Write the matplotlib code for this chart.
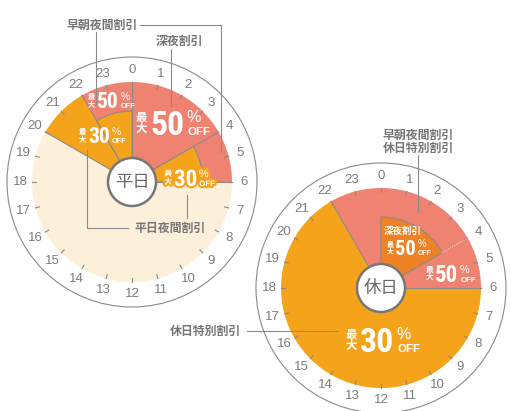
import numpy as np
import matplotlib
matplotlib.use('Agg')
import matplotlib.pyplot as plt
from matplotlib.patches import Wedge, Circle
import matplotlib.patheffects as pe

plt.rcParams['font.family'] = ['Noto Sans CJK JP', 'DejaVu Sans']

# colours for each fare type
COLORS = {'late': '#F08272', 'eve': '#F5A31B', 'deep': '#EF8224', 'base': '#FDF0DB'}
LINE = '#8a8a8a'
TXT = '#767676'
NUM_FONT = ['Liberation Sans Narrow', 'Roboto Condensed', 'Open Sans Condensed',
            'Noto Sans Condensed', 'Liberation Sans']

hours = list(range(24))

# weekday (平日) sectors, hours from midnight
weekday_start = [0, 4, 6, 20, 22]
weekday_end = [4, 6, 20, 22, 24]
weekday_kind = ['late', 'late', 'base', 'eve', 'late']
weekday_inner_start = [4, 22]
weekday_inner_end = [6, 24]
weekday_inner_kind = ['eve', 'eve']

# holiday (休日) sectors
holiday_start = [22, 6]
holiday_end = [30, 22]
holiday_kind = ['late', 'eve']
holiday_inner_start = [0]
holiday_inner_end = [4]
holiday_inner_kind = ['deep']

# discount labels: (percent, dx, dy, digit height) relative to chart centre
weekday_offers = [('50', 18, -72, 25), ('50', -35, -90, 16), ('30', -44, -55, 16), ('30', 42, -13, 17)]
holiday_offers = [('50', 14, -48, 15), ('50', 54, -23, 17), ('30', -21, 39, 25)]

R_PIE = 100
R_INNER = 71
R_OUTER = 125
R_LABEL = 112


def hour_xy(cx, cy, h, r):
    a = np.deg2rad(h * 15)
    return cx + r * np.sin(a), cy - r * np.cos(a)


def draw_offer(ax, x, y, pct, h, stroke=None):
    effects = [pe.withStroke(linewidth=3, foreground=stroke)] if stroke else None
    base = y + h
    t = ax.text(x, base, pct, fontsize=h * 0.97, family=NUM_FONT, weight='bold',
                color='white', ha='left', va='baseline', path_effects=effects, zorder=10)
    r = ax.figure.canvas.get_renderer()
    right = t.get_window_extent(r).x1
    small = h * 0.33
    ax.text(x - 0.34 * h, y + 0.28 * h, '最', fontsize=small, weight='bold', color='white',
            ha='center', va='center', path_effects=effects, zorder=10)
    ax.text(x - 0.34 * h, y + 0.74 * h, '大', fontsize=small, weight='bold', color='white',
            ha='center', va='center', path_effects=effects, zorder=10)
    ax.text(right + 0.1 * h, y + 0.47 * h, '%', fontsize=h * 0.46, family='Liberation Sans',
            color='white', ha='left', va='baseline', path_effects=effects, zorder=10)
    ax.text(right + 0.12 * h, base, 'OFF', fontsize=h * 0.33, family='Liberation Sans', weight='bold',
            color='white', ha='left', va='baseline', path_effects=effects, zorder=10)


def draw_clock(ax, cx, cy, starts, ends, kinds, in_starts, in_ends, in_kinds, title):
    ax.add_patch(Circle((cx, cy), R_OUTER, facecolor='white', edgecolor=LINE, lw=0.8, zorder=1))
    for a, b, k in zip(starts, ends, kinds):
        ax.add_patch(Wedge((cx, cy), R_PIE, 15 * a - 90, 15 * b - 90,
                           facecolor=COLORS[k], edgecolor='none', zorder=2))
    for a in starts:
        x, y = hour_xy(cx, cy, a, R_PIE)
        ax.plot([cx, x], [cy, y], color=LINE, lw=0.8, zorder=3)
    for a, b, k in zip(in_starts, in_ends, in_kinds):
        ax.add_patch(Wedge((cx, cy), R_INNER, 15 * a - 90, 15 * b - 90,
                           facecolor=COLORS[k], edgecolor=LINE, lw=0.8, zorder=4))
    for h in hours:
        x0, y0 = hour_xy(cx, cy, h, R_PIE - 4)
        x1, y1 = hour_xy(cx, cy, h, R_PIE)
        ax.plot([x0, x1], [y0, y1], color=LINE, lw=0.8, zorder=5)
        lx, ly = hour_xy(cx, cy, h, R_LABEL)
        ax.text(lx, ly, str(h), fontsize=9.5, family='Liberation Sans', color='#7c7c7c',
                ha='center', va='center', zorder=6)
    ax.add_patch(Circle((cx, cy), 24, facecolor='white', edgecolor='#777777', lw=1.8, zorder=8))
    ax.text(cx, cy, title, fontsize=12.5, color='#666666', ha='center', va='center', zorder=9)


fig = plt.figure(figsize=(5.11, 4.11), dpi=100)
ax = fig.add_axes([0, 0, 1, 1])
ax.set_xlim(0, 511)
ax.set_ylim(411, 0)
ax.axis('off')

lcx, lcy = 132, 182
rcx, rcy = 381, 288

draw_clock(ax, lcx, lcy, weekday_start, weekday_end, weekday_kind,
           weekday_inner_start, weekday_inner_end, weekday_inner_kind, '平日')
draw_clock(ax, rcx, rcy, holiday_start, holiday_end, holiday_kind,
           holiday_inner_start, holiday_inner_end, holiday_inner_kind, '休日')

# dotted divider inside the holiday late-night sector
x0, y0 = hour_xy(rcx, rcy, 4, R_INNER)
x1, y1 = hour_xy(rcx, rcy, 4, R_PIE)
ax.plot([x0, x1], [y0, y1], color='white', lw=0.6, ls=':', zorder=5)

for i, (p, dx, dy, h) in enumerate(weekday_offers):
    draw_offer(ax, lcx + dx, lcy + dy, p, h, stroke=COLORS['eve'] if i == 3 else None)
for p, dx, dy, h in holiday_offers:
    draw_offer(ax, rcx + dx, rcy + dy, p, h)

ax.text(rcx + 22, rcy - 57, '深夜割引', fontsize=6.8, weight='bold', color='white',
        ha='center', va='center', zorder=10)

# callouts
cfont = dict(fontsize=8.6, weight='bold', color=TXT, zorder=10)
ax.text(102, 25, '早朝夜間割引', ha='center', va='center', **cfont)
ax.plot([140, 221, 221], [25, 25, 152], color=LINE, lw=0.8, zorder=7)
ax.plot([96, 96], [32, 104], color=LINE, lw=0.8, zorder=7)
ax.text(179, 41, '深夜割引', ha='center', va='center', **cfont)
ax.plot([171, 171], [49, 106], color=LINE, lw=0.8, zorder=7)
ax.text(170, 228, '平日夜間割引', ha='center', va='center', **cfont)
ax.plot([128, 87, 87], [228, 228, 150], color=LINE, lw=0.8, zorder=7)
ax.plot([187, 187], [195, 218], color=LINE, lw=0.8, zorder=7)
ax.text(418, 142, '早朝夜間割引\n休日特別割引', ha='center', va='center', linespacing=1.05, **cfont)
ax.plot([418, 418], [155, 212], color=LINE, lw=0.8, zorder=7)
ax.text(205, 331, '休日特別割引', ha='center', va='center', **cfont)
ax.plot([247, 337], [331, 331], color=LINE, lw=0.8, zorder=7)

fig.savefig('out.png', dpi=100)
